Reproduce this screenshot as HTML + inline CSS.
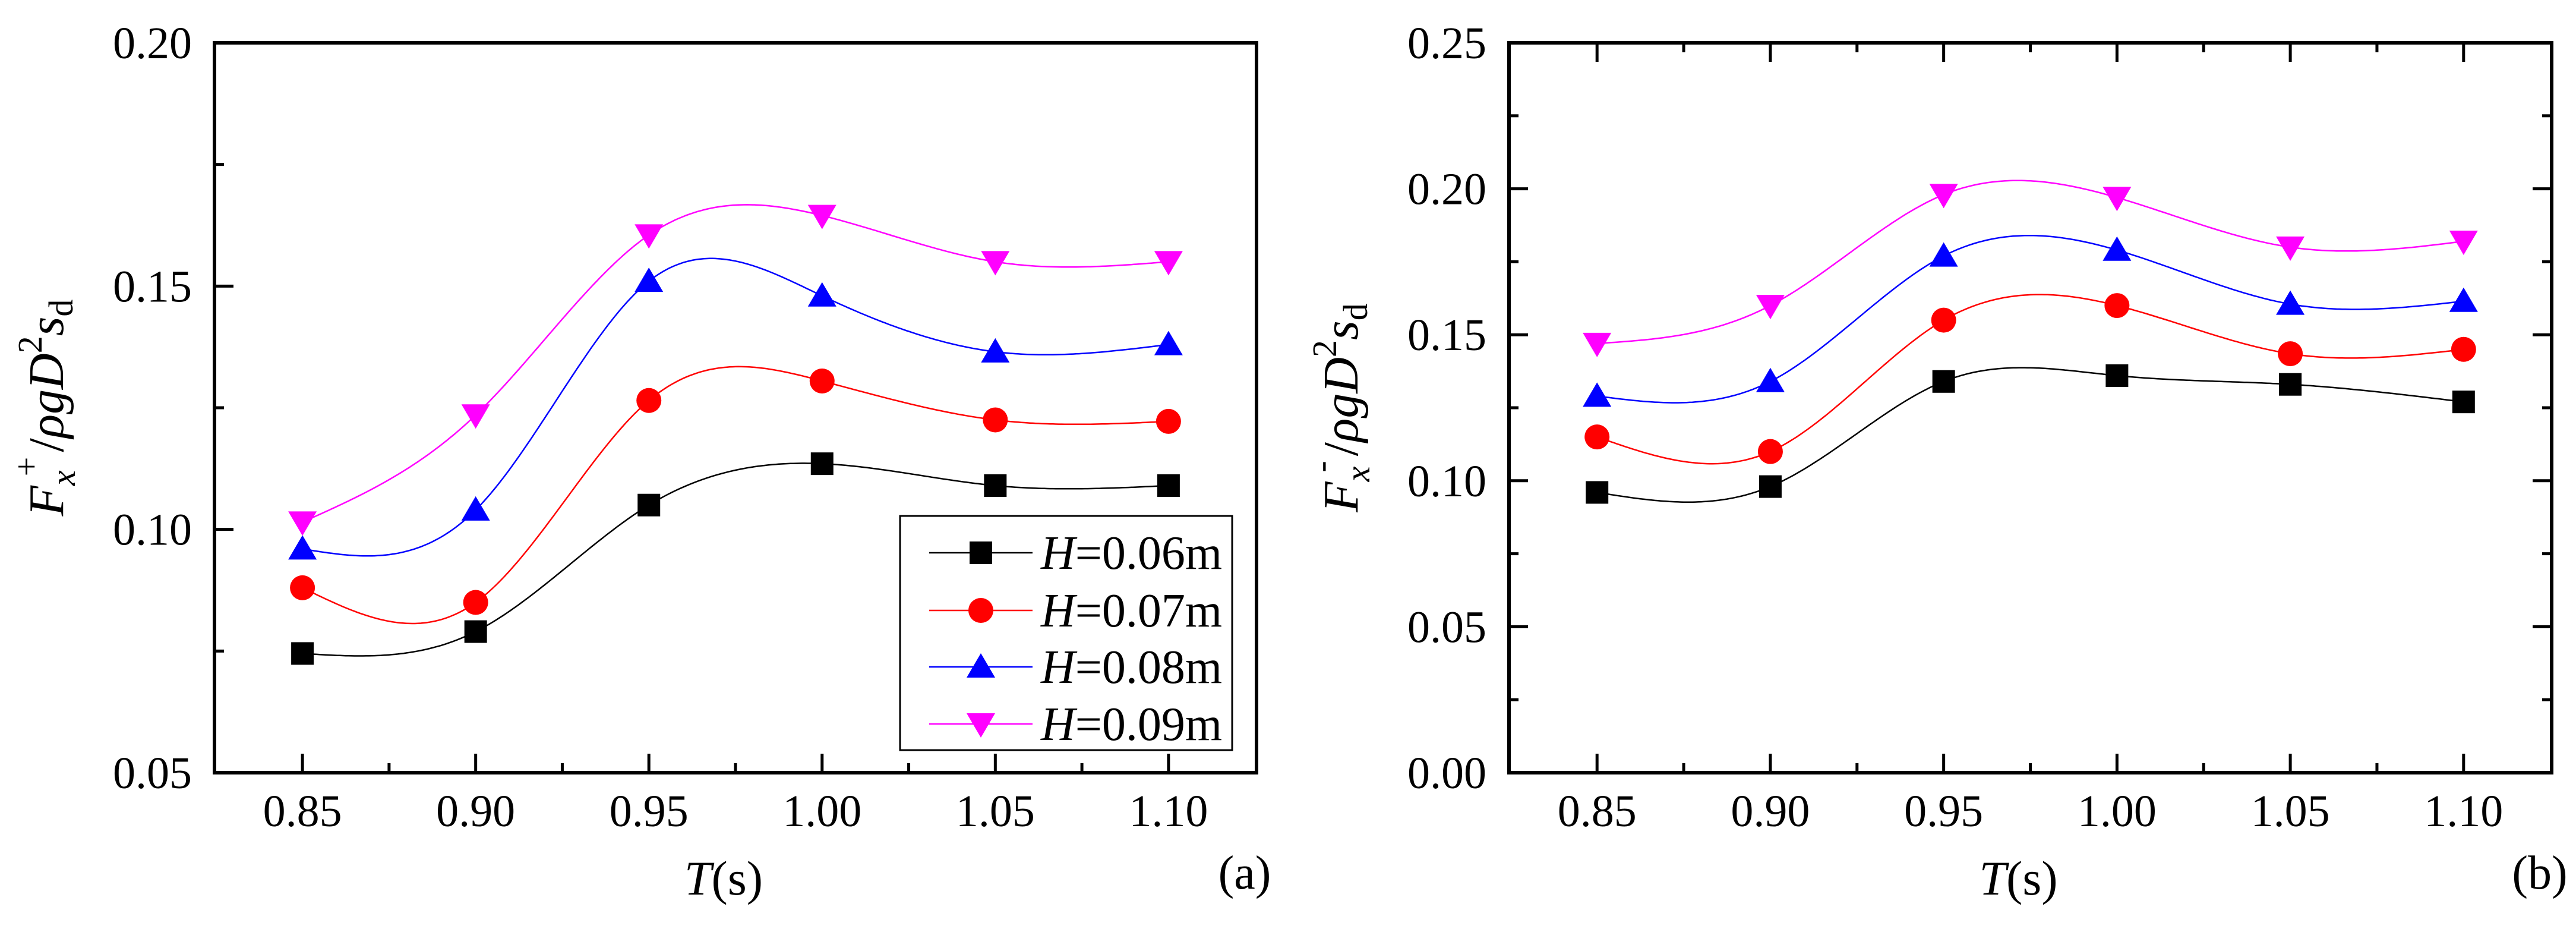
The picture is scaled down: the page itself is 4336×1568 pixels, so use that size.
<!DOCTYPE html>
<html><head><meta charset="utf-8">
<style>
html,body{margin:0;padding:0;background:#fff;}
svg{display:block;}
svg text{font-family:"Liberation Serif","Times New Roman",Times,"DejaVu Serif",serif;fill:#000;}
</style></head>
<body>
<svg id="fig" width="4336" height="1568" viewBox="0 0 4336 1568" xmlns="http://www.w3.org/2000/svg" font-family="Liberation Serif, Times New Roman, serif">
<rect width="4336" height="1568" fill="#fff"/>
<g id="pa"></g>
<g id="pb"></g>
</svg>
<script>
const periods = [0.85, 0.90, 0.95, 1.00, 1.05, 1.10];
const seriesLabels = ["H=0.06m","H=0.07m","H=0.08m","H=0.09m"];
const aH006 = [0.0745, 0.079, 0.105, 0.1135, 0.109, 0.109];
const aH007 = [0.088, 0.085, 0.1265, 0.1305, 0.1225, 0.1222];
const aH008 = [0.096, 0.104, 0.151, 0.148, 0.1365, 0.138];
const aH009 = [0.1015, 0.1235, 0.1605, 0.1645, 0.155, 0.155];
const bH006 = [0.096, 0.098, 0.134, 0.136, 0.133, 0.127];
const bH007 = [0.115, 0.110, 0.155, 0.160, 0.1435, 0.145];
const bH008 = [0.129, 0.134, 0.177, 0.179, 0.1605, 0.1615];
const bH009 = [0.147, 0.160, 0.198, 0.197, 0.180, 0.182];
const xTickLabels = ["0.85","0.90","0.95","1.00","1.05","1.10"];
const aYTickLabels = ["0.05","0.10","0.15","0.20"];
const bYTickLabels = ["0.00","0.05","0.10","0.15","0.20","0.25"];

const NS="http://www.w3.org/2000/svg";
const FONT='"Liberation Serif","Times New Roman",Times,"DejaVu Serif",serif';
const colors=["#000000","#ff0000","#0000ff","#ff00ff"];
const shapes=["square","circle","up","down"];
function mk(tag,attrs,parent){const e=document.createElementNS(NS,tag);for(const k in attrs)e.setAttribute(k,attrs[k]);if(tag==="text")e.style.fontFamily=FONT;parent.appendChild(e);return e;}

function spline(xs,ys){
  const n=xs.length,h=[],al=[],l=[1],mu=[0],z=[0],c=new Array(n).fill(0),b=[],d=[];
  for(let i=0;i<n-1;i++)h.push(xs[i+1]-xs[i]);
  for(let i=1;i<n-1;i++)al[i]=3/h[i]*(ys[i+1]-ys[i])-3/h[i-1]*(ys[i]-ys[i-1]);
  for(let i=1;i<n-1;i++){l[i]=2*(xs[i+1]-xs[i-1])-h[i-1]*mu[i-1];mu[i]=h[i]/l[i];z[i]=(al[i]-h[i-1]*z[i-1])/l[i];}
  for(let j=n-2;j>=0;j--){c[j]=(j>0?z[j]-mu[j]*c[j+1]:0);b[j]=(ys[j+1]-ys[j])/h[j]-h[j]*(c[j+1]+2*c[j])/3;d[j]=(c[j+1]-c[j])/(3*h[j]);}
  return function(x){let i=0;while(i<n-2&&x>xs[i+1])i++;const t=x-xs[i];return ys[i]+b[i]*t+c[i]*t*t+d[i]*t*t*t;};
}

function marker(g,shape,cx,cy,col,name){
  let e;
  if(shape==="square")e=mk("rect",{x:cx-19,y:cy-19,width:38,height:38,fill:col},g);
  else if(shape==="circle")e=mk("circle",{cx:cx,cy:cy,r:21,fill:col},g);
  else if(shape==="up")e=mk("polygon",{points:`${cx},${cy-23} ${cx+24},${cy+18} ${cx-24},${cy+18}`,fill:col},g);
  else e=mk("polygon",{points:`${cx},${cy+23} ${cx+24},${cy-18} ${cx-24},${cy-18}`,fill:col},g);
  
  
}

function panel(g,cfg){
  const L=cfg.L,R=cfg.R,T=72,B=1300;
  const xs=v=>L+(v-0.8246)/(1.1254-0.8246)*(R-L);
  const ys=v=>B-(v-cfg.ymin)/(cfg.ymax-cfg.ymin)*(B-T);
  cfg.series.forEach((vals,si)=>{
    const f=spline(periods,vals);
    let d="";
    const N=300;
    for(let k=0;k<=N;k++){const x=periods[0]+(periods[periods.length-1]-periods[0])*k/N;d+=(k?"L":"M")+xs(x).toFixed(1)+","+ys(f(x)).toFixed(1);}
    const p=mk("path",{d:d,fill:"none",stroke:colors[si],"stroke-width":2.5},g);
    
    
    vals.forEach((v,i)=>marker(g,shapes[si],xs(periods[i]),ys(v),colors[si],'point-'+si+'-'+i));
  });
  const fr=mk("rect",{x:L,y:T,width:R-L,height:B-T,fill:"none",stroke:"#000","stroke-width":6},g);
  
  
  periods.forEach((v,i)=>{
    mk("line",{x1:xs(v),y1:B,x2:xs(v),y2:B-32,stroke:"#000","stroke-width":5},g);
    if(cfg.box)mk("line",{x1:xs(v),y1:T,x2:xs(v),y2:T+32,stroke:"#000","stroke-width":5},g);
    if(i<periods.length-1){const m=xs(v+0.025);mk("line",{x1:m,y1:B,x2:m,y2:B-16,stroke:"#000","stroke-width":5},g);
      if(cfg.box)mk("line",{x1:m,y1:T,x2:m,y2:T+16,stroke:"#000","stroke-width":5},g);}
    const t=mk("text",{x:xs(v),y:1390,"font-size":76,"text-anchor":"middle"},g);t.textContent=xTickLabels[i];
    
    
  });
  cfg.ylabels.forEach((lab,i)=>{
    const v=cfg.ymin+i*0.05,y=ys(v);
    mk("line",{x1:L,y1:y,x2:L+32,y2:y,stroke:"#000","stroke-width":5},g);
    if(cfg.box)mk("line",{x1:R,y1:y,x2:R-32,y2:y,stroke:"#000","stroke-width":5},g);
    if(i<cfg.ylabels.length-1){const m=ys(v+0.025);mk("line",{x1:L,y1:m,x2:L+16,y2:m,stroke:"#000","stroke-width":5},g);
      if(cfg.box)mk("line",{x1:R,y1:m,x2:R-16,y2:m,stroke:"#000","stroke-width":5},g);}
    const t=mk("text",{x:L-38,y:y+26,"font-size":76,"text-anchor":"end"},g);t.textContent=lab;
    
    
  });
  const xt=mk("text",{x:(L+R)/2-20,y:1505,"font-size":82,"text-anchor":"middle"},g);
  xt.innerHTML='<tspan font-style="italic">T</tspan>(s)';
  
  
  const pl=mk("text",{x:R-20,y:1495,"font-size":80,"text-anchor":"middle"},g);
  pl.textContent=cfg.tag;
  
  
  const yt=mk("text",{x:0,y:0,"font-size":84,"text-anchor":"middle",transform:`translate(${L-255},686) rotate(-90)`},g);
  yt.innerHTML='<tspan font-style="italic">F</tspan><tspan font-style="italic" font-size="58" dy="20">x</tspan><tspan font-size="58" dx="-10" dy="-62">'+cfg.sup+'</tspan><tspan dx="8" dy="42">/</tspan><tspan font-style="italic">ρgD</tspan><tspan font-size="58" dy="-36">2</tspan><tspan font-style="italic" dy="36">s</tspan><tspan font-size="58" dy="16">d</tspan>';
  
  
  if(cfg.legend){
    const lg=mk("g",{},g);
    
    
    mk("rect",{x:1515,y:868,width:559,height:394,fill:"#fff",stroke:"#000","stroke-width":3},lg);
    const ly=[930,1027,1122,1218];
    seriesLabels.forEach((s,i)=>{
      const e=mk("g",{},lg);
      
      
      mk("line",{x1:1564,y1:ly[i],x2:1738,y2:ly[i],stroke:colors[i],"stroke-width":2.5},e);
      marker(e,shapes[i],1651,ly[i],colors[i],'legend-marker');
      const t=mk("text",{x:1752,y:ly[i]+27,"font-size":80},e);
      t.innerHTML='<tspan font-style="italic">H</tspan>'+s.slice(1);
    });
  }
}
panel(document.getElementById("pa"),{L:361,R:2115,ymin:0.05,ymax:0.20,ylabels:aYTickLabels,series:[aH006,aH007,aH008,aH009],box:false,legend:true,tag:"(a)",sup:"+"});
panel(document.getElementById("pb"),{L:2540,R:4295,ymin:0.0,ymax:0.25,ylabels:bYTickLabels,series:[bH006,bH007,bH008,bH009],box:true,legend:false,tag:"(b)",sup:"-"});
</script>
</body></html>
